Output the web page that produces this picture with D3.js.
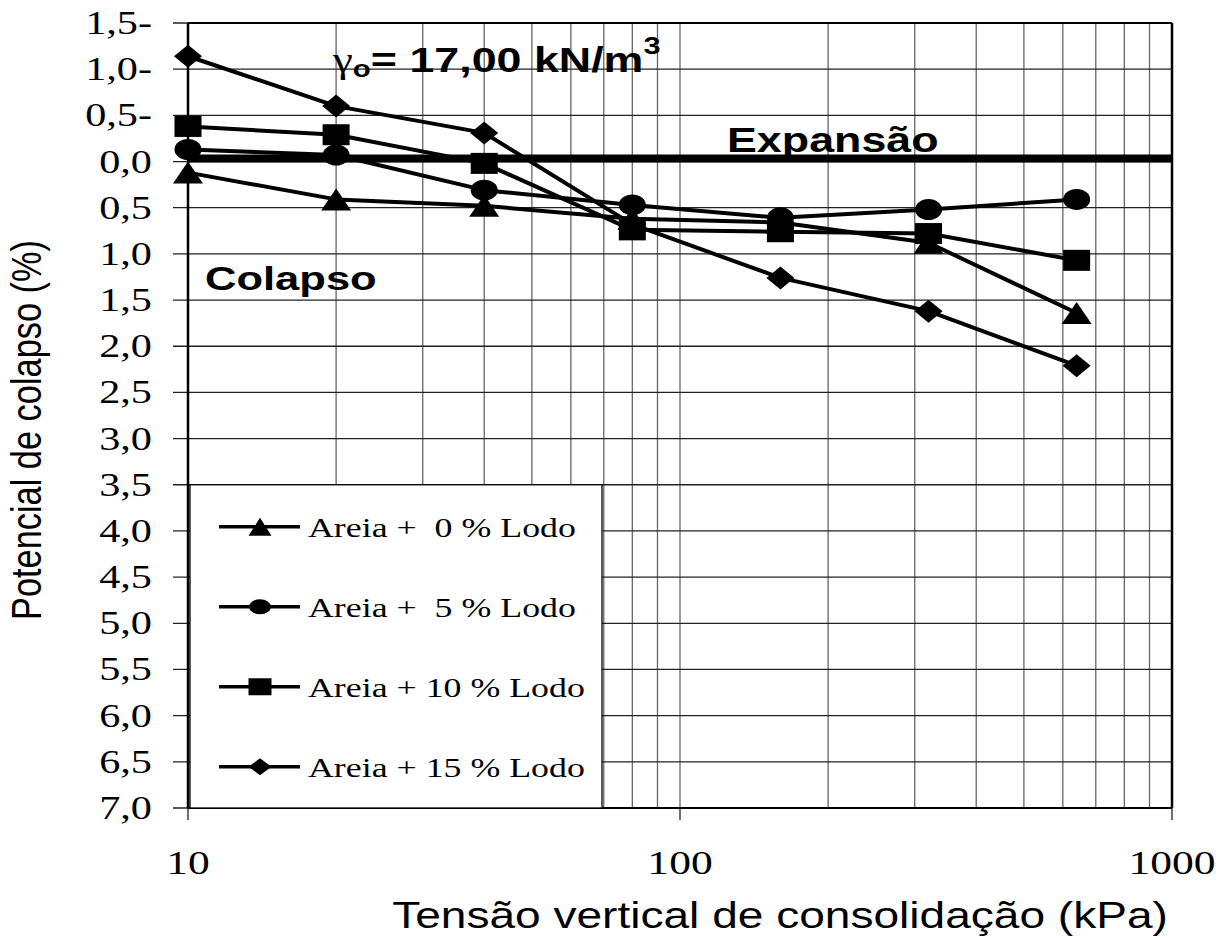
<!DOCTYPE html>
<meta charset="utf-8">
<style>
body{ margin:0; background:#fff; }
text{ white-space:pre; }
.serif{ font-family:"Liberation Serif","Times New Roman",serif; }
.sans{ font-family:"Liberation Sans",Arial,sans-serif; }
</style>
<body>
<script src="https://cdn.jsdelivr.net/npm/d3@7"></script>
<script>

// tensão de consolidação (kPa) e potencial de colapso (%), expansão com sinal negativo
var pressures = [10, 20, 40, 80, 160, 320, 640];
var lodo0  = [0.12, 0.41, 0.48, 0.62, 0.66, 0.88, 1.64];
var lodo5  = [-0.13, -0.07, 0.31, 0.47, 0.61, 0.52, 0.41];
var lodo10 = [-0.38, -0.29, 0.02, 0.74, 0.76, 0.78, 1.07];
var lodo15 = [-1.14, -0.60, -0.31, 0.68, 1.26, 1.62, 2.21];
var seriesNames = ["Areia +  0 % Lodo", "Areia +  5 % Lodo", "Areia + 10 % Lodo", "Areia + 15 % Lodo"];
var markerTypes = ["triangle", "circle", "square", "diamond"];
var yTicks = [-1.5, -1.0, -0.5, 0, 0.5, 1.0, 1.5, 2.0, 2.5, 3.0, 3.5, 4.0, 4.5, 5.0, 5.5, 6.0, 6.5, 7.0];
var xLabels = [10, 100, 1000];
var xGrid = [10, 20, 30, 40, 50, 60, 70, 80, 90, 100, 200, 300, 400, 500, 600, 700, 800, 900, 1000];

var width = 1229, height = 938,
    sx = 1.28; // o gráfico original está esticado na horizontal

var x = d3.scaleLog().domain([10, 1000]).range([188, 1172]);
var y = d3.scaleLinear().domain([-1.5, 7]).range([23, 808]);

var svg = d3.select("body").append("svg")
    .attr("width", width)
    .attr("height", height);

function fmt(v) {
  var s = Math.abs(v).toFixed(1).replace(".", ",");
  return v < 0 ? s + "-" : s;
}

function label(g, px, py, str, cls, size, anchor, weight) {
  return g.append("text")
      .attr("class", cls)
      .attr("transform", "translate(" + px + "," + py + ") scale(" + sx + ",1)")
      .attr("text-anchor", anchor || "start")
      .style("font-size", size + "px")
      .style("font-weight", weight || "normal")
      .text(str);
}

function marker(g, type, cx, cy, w, h) {
  if (type == "circle") {
    g.append("ellipse").attr("cx", cx).attr("cy", cy).attr("rx", w / 2).attr("ry", h / 2);
  } else if (type == "square") {
    g.append("rect").attr("x", cx - w / 2).attr("y", cy - h / 2).attr("width", w).attr("height", h);
  } else if (type == "triangle") {
    g.append("path").attr("d", "M" + cx + "," + (cy - h / 2) + "L" + (cx + w / 2) + "," + (cy + h / 2) + "L" + (cx - w / 2) + "," + (cy + h / 2) + "Z");
  } else {
    g.append("path").attr("d", "M" + cx + "," + (cy - h / 2) + "L" + (cx + w / 2) + "," + cy + "L" + cx + "," + (cy + h / 2) + "L" + (cx - w / 2) + "," + cy + "Z");
  }
}
var bigSize = {triangle: [30, 22], circle: [27, 21], square: [27, 21], diamond: [28, 23]};
var smallSize = {triangle: [23, 18], circle: [22, 15], square: [23, 17], diamond: [23, 17]};

// grade
svg.append("g").selectAll("line")
    .data(xGrid)
  .enter().append("line")
    .attr("x1", function(d) { return x(d); })
    .attr("x2", function(d) { return x(d); })
    .attr("y1", y(-1.5))
    .attr("y2", y(7))
    .attr("stroke", "#666")
    .attr("stroke-width", 1.3);

svg.append("g").selectAll("line")
    .data(yTicks)
  .enter().append("line")
    .attr("x1", 173)
    .attr("x2", x(1000))
    .attr("y1", function(d) { return y(d); })
    .attr("y2", function(d) { return y(d); })
    .attr("stroke", "#222")
    .attr("stroke-width", 1.3);

// ticks do eixo x
svg.append("g").selectAll("line")
    .data(xLabels)
  .enter().append("line")
    .attr("x1", function(d) { return x(d); })
    .attr("x2", function(d) { return x(d); })
    .attr("y1", y(7))
    .attr("y2", y(7) + 12)
    .attr("stroke", "#222")
    .attr("stroke-width", 1.3);

// bordas
svg.append("line").attr("x1", x(10)).attr("x2", x(10)).attr("y1", y(-1.5)).attr("y2", y(7))
    .attr("stroke", "#000").attr("stroke-width", 2.5);
svg.append("line").attr("x1", x(1000)).attr("x2", x(1000)).attr("y1", y(-1.5)).attr("y2", y(7))
    .attr("stroke", "#000").attr("stroke-width", 2.5);
svg.append("line").attr("x1", x(10)).attr("x2", x(1000)).attr("y1", y(-1.5)).attr("y2", y(-1.5))
    .attr("stroke", "#000").attr("stroke-width", 2);
svg.append("line").attr("x1", x(10)).attr("x2", x(1000)).attr("y1", y(7)).attr("y2", y(7))
    .attr("stroke", "#000").attr("stroke-width", 2);

// linha de referência (zero), um pouco acima da grade como no original
svg.append("line").attr("x1", x(10)).attr("x2", x(1000)).attr("y1", y(0) - 3).attr("y2", y(0) - 3)
    .attr("stroke", "#000").attr("stroke-width", 8);

// rótulos dos eixos
var ax = svg.append("g");
yTicks.forEach(function(v) {
  label(ax, 152, y(v) + 11, fmt(v), "serif", 33, "end");
});
xLabels.forEach(function(v) {
  label(ax, x(v), 874, String(v), "serif", 34, "middle");
});
label(ax, 780, 928, "Tensão vertical de consolidação (kPa)", "sans", 36, "middle");
ax.append("text")
    .attr("class", "sans")
    .attr("transform", "translate(41,430) scale(" + sx + ",1) rotate(-90)")
    .attr("text-anchor", "middle")
    .attr("textLength", 380)
    .attr("lengthAdjust", "spacingAndGlyphs")
    .style("font-size", "33px")
    .text("Potencial de colapso (%)");

// anotações
label(svg, 727, 152, "Expansão", "sans", 35, "start", "bold");
label(svg, 205, 290, "Colapso", "sans", 34, "start", "bold");
var gam = label(svg, 333, 72, "", "sans", 35, "start", "bold");
gam.append("tspan").attr("class", "serif").style("font-weight", "normal").text("γ");
gam.append("tspan").attr("dy", 5).style("font-size", "23px").text("o");
gam.append("tspan").attr("dy", -5).text("= 17,00 kN/m");
gam.append("tspan").attr("dy", -18).style("font-size", "24px").text("3");

// legenda
var leg = svg.append("g");
leg.append("rect")
    .attr("x", 190).attr("y", y(3.5))
    .attr("width", 412).attr("height", y(7) - y(3.5))
    .attr("fill", "#fff").attr("stroke", "#000").attr("stroke-width", 1.3);
seriesNames.forEach(function(name, i) {
  var ly = y(3.5) + 42 + i * 80;
  leg.append("line").attr("x1", 219).attr("x2", 300).attr("y1", ly).attr("y2", ly)
      .attr("stroke", "#000").attr("stroke-width", 3.5);
  marker(leg, markerTypes[i], 260, ly, smallSize[markerTypes[i]][0], smallSize[markerTypes[i]][1]);
  label(leg, 308, ly + 10, name, "serif", 28, "start");
});

// séries
var allSeries = [lodo0, lodo5, lodo10, lodo15];
var line = d3.line()
    .x(function(d, i) { return x(pressures[i]); })
    .y(function(d) { return y(d); });
var plot = svg.append("g");
allSeries.forEach(function(s) {
  plot.append("path")
      .attr("d", line(s))
      .attr("fill", "none")
      .attr("stroke", "#000")
      .attr("stroke-width", 4)
      .attr("stroke-linejoin", "round");
});
[3, 0, 1, 2].forEach(function(k) {
  var t = markerTypes[k];
  allSeries[k].forEach(function(v, i) {
    marker(plot, t, x(pressures[i]), y(v), bigSize[t][0], bigSize[t][1]);
  });
});

</script>
